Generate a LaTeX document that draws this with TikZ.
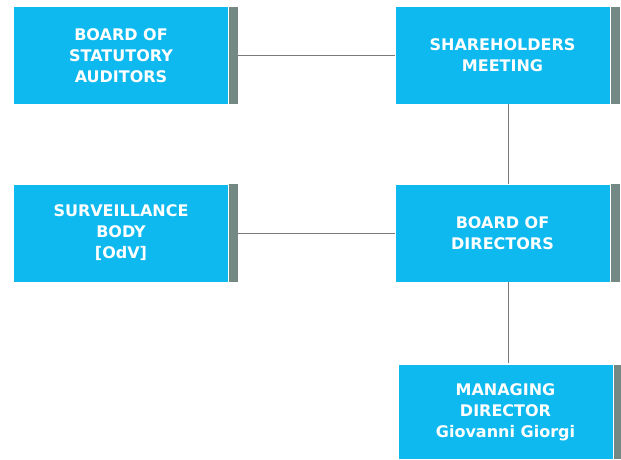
\documentclass[tikz,border=0pt]{standalone}
\usepackage{fontspec}
\setmainfont{DejaVu Sans}
\usetikzlibrary{calc, positioning}
\definecolor{boxblue}{HTML}{0DB9EE}
\definecolor{bargray}{HTML}{748884}
\definecolor{linegray}{HTML}{7A7A7A}

\begin{document}
\begin{tikzpicture}[x=1pt, y=1pt,
  organ/.style={fill=boxblue, minimum width=214pt, minimum height=97pt, inner sep=0pt,
    text=white, font=\bfseries\fontsize{16}{21}\selectfont, align=center},
  link/.style={linegray, line width=0.9pt}]
  \useasboundingbox (0,0) rectangle (621,459);

  % left column
  \node[organ] (auditors) at (121,403.5) {BOARD OF\\STATUTORY\\AUDITORS};
  \node[organ] (odv) at (121,226) {SURVEILLANCE\\BODY\\{[OdV]}};

  % right column
  \node[organ] (meeting) at (502.5,403.5) {SHAREHOLDERS\\MEETING};
  \node[organ] (board) at (502.5,226) {BOARD OF\\DIRECTORS};
  \node[organ, minimum height=94pt] (director) at (505.5,47) {MANAGING\\DIRECTOR\\Giovanni Giorgi};

  % gray bars on the right side
  \foreach \n in {auditors, odv, meeting, board, director}
    \fill[bargray] ([xshift=1pt]\n.north east) rectangle ([xshift=10pt]\n.south east);

  % connectors
  \draw[link] ([xshift=10pt]auditors.east) -- (meeting.west);
  \draw[link] ([xshift=10pt]odv.east) -- (board.west);
  \draw[link] ([xshift=5.5pt]meeting.south) -- ([xshift=5.5pt]board.north);
  \draw[link] ([xshift=5.5pt]board.south) -- ([xshift=2.5pt,yshift=2pt]director.north);
\end{tikzpicture}
\end{document}
